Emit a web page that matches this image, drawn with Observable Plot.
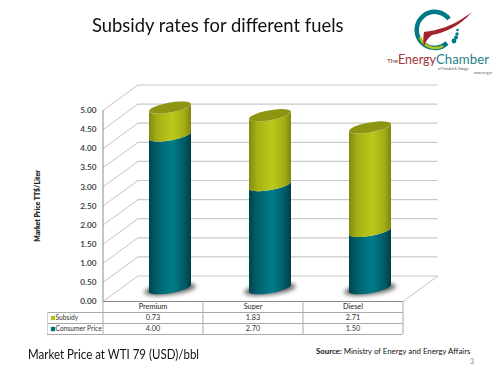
<!DOCTYPE html>
<html><head><meta charset="utf-8">
<script src="https://cdn.jsdelivr.net/npm/d3@7"></script>
<script src="https://cdn.jsdelivr.net/npm/@observablehq/plot@0.6"></script>
<style>
html,body{margin:0;padding:0;background:#fff;width:500px;height:373px;overflow:hidden;font-family:Lato,sans-serif}
#head{position:relative;height:78px;width:500px}
#title{position:absolute;left:92px;top:10px;font-size:20px;color:#111;white-space:nowrap;line-height:28px;transform:scaleX(.92);transform-origin:0 0}
#logo{position:absolute;left:380px;top:0}
#foot{position:relative;height:35px;width:500px}
#cap{position:absolute;left:28px;top:8px;font-size:13px;color:#111;white-space:nowrap;transform:scaleX(.885);transform-origin:0 0}
#src{position:absolute;left:316px;top:8px;font-size:7.8px;color:#111;white-space:nowrap}
#pg{position:absolute;left:470px;top:19px;font-size:7px;color:#888}
svg{display:block}
</style></head><body>
<div id="head">
  <div id="title">Subsidy rates for different fuels</div>
  <svg id="logo" width="120" height="78" viewBox="380 0 120 78">
    <path d="M449 19 A18 18 0 1 0 447 43" fill="none" stroke="#00788a" stroke-width="4.500"/>
    <path d="M420 37 A16 16 0 0 0 443 46" fill="none" stroke="#b5c41a" stroke-width="2.500"/>
    <path d="M424 32 C438 30 452 27 472 12 C460 26 444 33 432 35 C428 38 425 42 424 47 C423 42 423 37 424 32Z" fill="#a3242c"/>
    <circle cx="457.500" cy="30" r="1.300" fill="#00788a"/><circle cx="457" cy="34" r="1.700" fill="#00788a"/>
    <circle cx="456" cy="37.500" r="2" fill="#00788a"/><circle cx="454" cy="41" r="2.400" fill="#00788a"/>
    <text x="387" y="63" font-size="6.500" fill="#7a3a30" font-family="Lato">The</text>
    <text x="398" y="64" font-size="13" fill="#a3343a" font-family="Lato" textLength="38" lengthAdjust="spacingAndGlyphs">Energy</text>
    <text x="436" y="64" font-size="13" fill="#1f7f8c" font-family="Lato" textLength="53" lengthAdjust="spacingAndGlyphs">Chamber</text>
    <text x="438" y="69.500" font-size="3.400" fill="#555" font-family="Lato">of Trinidad &amp; Tobago</text>
    <text x="474" y="74" font-size="2.800" fill="#555" font-family="Lato">www.energy.tt</text>
  </svg>
</div>
<div id="chart"></div>
<div id="foot">
  <div id="cap">Market Price at WTI 79 (USD)/bbl</div>
  <div id="src"><b>Source:</b> Ministry of Energy and Energy Affairs</div>
  <div id="pg">3</div>
</div>
<script>
const categories = ["Premium", "Super", "Diesel"];
const subsidy = [0.73, 1.83, 2.71];
const consumer = [4.00, 2.70, 1.50];
const yTicks = [0, 0.5, 1, 1.5, 2, 2.5, 3, 3.5, 4, 4.5, 5];
const seriesNames = ["Subsidy", "Consumer Price"];

const W = 500, H = 260;
const pxX = 100, pxY = 38.2;
const depthX = 0.35, depthY = 25.5 / pxY;
const rowH = 11 / pxY;
const font = "Lato, sans-serif";
const idx = categories.map((_, i) => i);

const stack = idx.flatMap(i => [
  {s: "consumer", i, y0: 0, y1: consumer[i]},
  {s: "subsidy", i, y0: consumer[i], y1: consumer[i] + subsidy[i]}
]);

const ell = (cx, cy, t) => [cx + 21 * Math.cos(t), cy - 5 * Math.sin(t) - 3.5 * Math.cos(t)];
const arc = (cx, cy, from, to) => d3.range(25).map(k => ell(cx, cy, from + (to - from) * k / 24));
const pathOf = pts => "M" + pts.map(p => p[0].toFixed(2) + "," + p[1].toFixed(2)).join("L") + "Z";

function cylinder(index, scales, values) {
  const g = d3.create("svg:g");
  const defs = g.append("defs");
  const grad = (id, stops) => {
    const l = defs.append("linearGradient").attr("id", id);
    stops.forEach(([o, c]) => l.append("stop").attr("offset", o).attr("stop-color", c));
  };
  grad("gT", [[0, "#00434e"], [.18, "#005f6b"], [.55, "#007d8a"], [.85, "#005a66"], [1, "#003e48"]]);
  grad("gO", [[0, "#808a0e"], [.18, "#a3ae14"], [.55, "#bcc91b"], [.85, "#a1ab14"], [1, "#7d860e"]]);
  const blur = defs.append("filter").attr("id", "bl").attr("x", "-40%").attr("y", "-150%").attr("width", "180%").attr("height", "400%");
  blur.append("feGaussianBlur").attr("stdDeviation", 2.2);
  const dataRows = Array.from(index, i => ({i, d: stack[i], cx: (values.x1[i] + values.x2[i]) / 2, top: values.y2[i], bot: values.y1[i]}));
  dataRows.filter(r => r.d.s === "consumer").forEach(r => {
    g.append("ellipse").attr("cx", r.cx).attr("cy", r.bot + 1)
      .attr("rx", 26).attr("ry", 5.5).attr("fill", "#666").attr("filter", "url(#bl)")
      .attr("transform", `rotate(-7 ${r.cx} ${r.bot + 1})`);
  });
  dataRows.forEach(r => {
    const pts = arc(r.cx, r.top, Math.PI, 2 * Math.PI).concat(arc(r.cx, r.bot, 2 * Math.PI, Math.PI));
    g.append("path").attr("d", pathOf(pts)).attr("fill", r.d.s === "consumer" ? "url(#gT)" : "url(#gO)");
    if (r.d.s === "subsidy") {
      g.append("path").attr("d", pathOf(arc(r.cx, r.top, 0, 2 * Math.PI))).attr("fill", "#8e9512");
    }
  });
  return g.node();
}

const gridC = "#c9c9c9", tblC = "#a9a9a9";
const txt = {fontFamily: font, fontSize: 7.3, fill: "#333"};

const plot = Plot.plot({
  width: W, height: H, margin: 0,
  x: {domain: [-1.025, 3.975], range: [0, W], axis: null},
  y: {domain: [-37 / pxY, 223 / pxY], range: [H, 0], axis: null},
  marks: [
    // back wall and left wall gridlines
    Plot.ruleY(yTicks, {y: d => d + depthY, x1: depthX, x2: 3 + depthX, stroke: gridC, strokeWidth: 1.2}),
    Plot.link(yTicks, {x1: 0, y1: d => d, x2: depthX, y2: d => d + depthY, stroke: "#b5b5b5", strokeWidth: 0.8}),
    // floor edges and axis
    Plot.link([0], {x1: 3, y1: 0, x2: 3 + depthX, y2: depthY, stroke: "#b5b5b5", strokeWidth: 0.8}),
    Plot.ruleX([0], {y1: 0, y2: 5, stroke: "#8a8a8a", strokeWidth: 1}),
    Plot.ruleY([0], {x1: 0, x2: 3, stroke: "#8a8a8a", strokeWidth: 1}),
    // cylinders
    Plot.rect(stack, {
      x1: d => d.i + 0.5 + depthX / 2 - 0.21,
      x2: d => d.i + 0.5 + depthX / 2 + 0.21,
      y1: d => d.y0 + depthY / 2,
      y2: d => d.y1 + depthY / 2,
      render: cylinder
    }),
    // y axis labels
    Plot.text(yTicks, {x: 0, y: d => d, text: d => d.toFixed(2), textAnchor: "end", dx: -6.5, fontFamily: font, fontSize: 8.2, fontWeight: 600, fill: "#333"}),
    Plot.text(["Market Price TT$/Liter"], {x: 0, y: 2.5, dx: -65.5, dy: 0, rotate: -90, fontFamily: font, fontSize: 6.9, fontWeight: 800, fill: "#222"}),
    // data table grid
    Plot.ruleY([1, 2, 3], {y: d => -d * rowH, x1: -0.555, x2: 3, stroke: tblC, strokeWidth: 1}),
    Plot.ruleX([0, 1, 2, 3], {x: d => d, y1: 0, y2: -3 * rowH, stroke: tblC, strokeWidth: 1}),
    Plot.ruleX([-0.555], {y1: -rowH, y2: -3 * rowH, stroke: "#d0d0d0", strokeWidth: 1}),
    // data table text
    Plot.text(categories, {x: (d, i) => i + 0.5, y: -0.5 * rowH, text: d => d, ...txt, fontWeight: 500}),
    Plot.text(subsidy, {x: (d, i) => i + 0.5, y: -1.5 * rowH, text: d => d.toFixed(2), ...txt}),
    Plot.text(consumer, {x: (d, i) => i + 0.5, y: -2.5 * rowH, text: d => d.toFixed(2), ...txt}),
    Plot.text(seriesNames, {x: -0.475, y: (d, i) => -(1.5 + i) * rowH, text: d => d, textAnchor: "start", ...txt, fontSize: 6.7}),
    Plot.dot(seriesNames, {x: -0.5, y: (d, i) => -(1.5 + i) * rowH, symbol: "square", r: 2.4, fill: (d, i) => i ? "#00707c" : "#b4c01a"})
  ]
});
document.getElementById("chart").append(plot);
</script>
</body></html>
